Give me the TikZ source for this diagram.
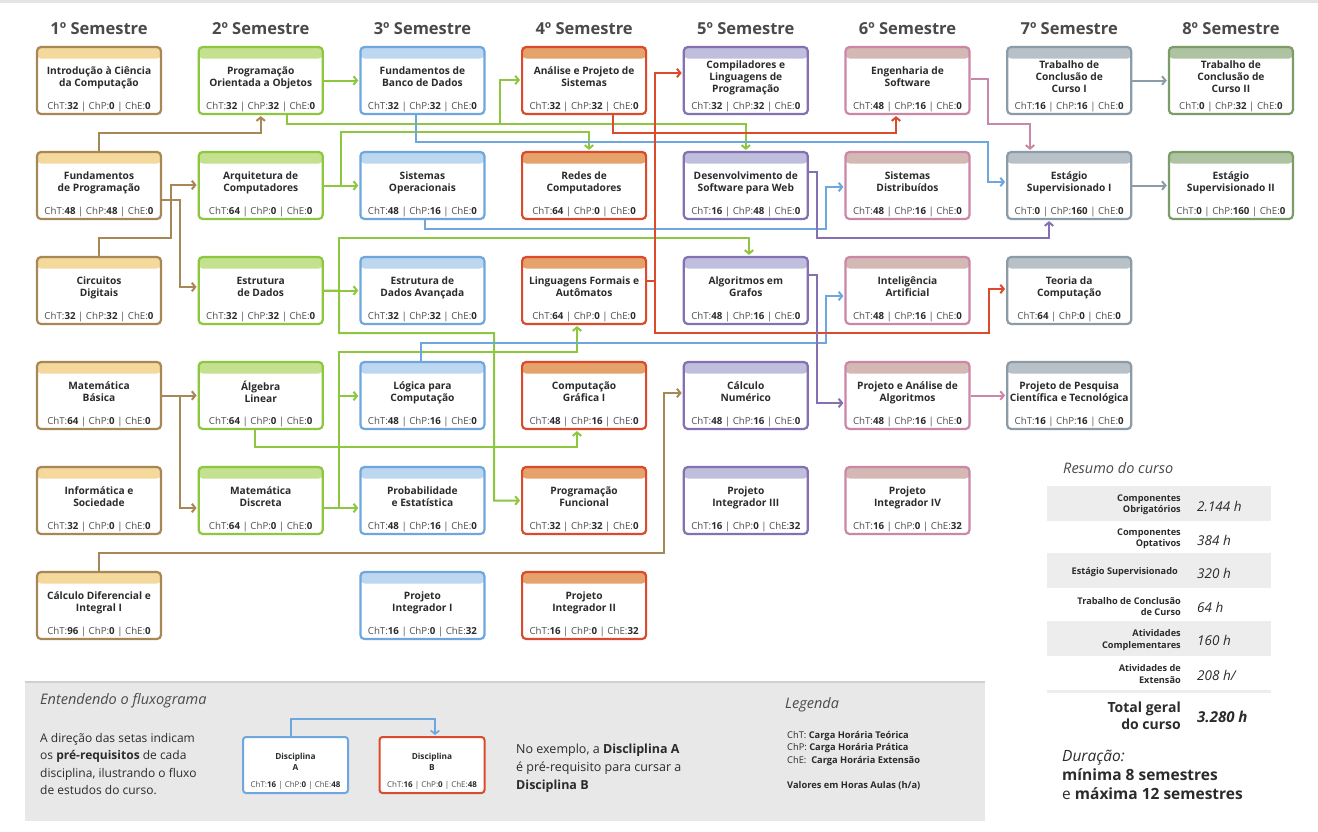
\documentclass[tikz,border=0pt]{standalone}
\usepackage{fontspec}
\setmainfont{Open Sans}
\usepackage{xcolor}
\usepackage{tikz}
\usetikzlibrary{arrows.meta, positioning}
\definecolor{s1line}{HTML}{A88756}
\definecolor{s1head}{HTML}{F4D89C}
\definecolor{s2line}{HTML}{8DC63F}
\definecolor{s2head}{HTML}{C4E18F}
\definecolor{s3line}{HTML}{6EA7DD}
\definecolor{s3head}{HTML}{BDD7F0}
\definecolor{s4line}{HTML}{DB4A2B}
\definecolor{s4head}{HTML}{E6A26B}
\definecolor{s5line}{HTML}{8371B1}
\definecolor{s5head}{HTML}{C0BEDD}
\definecolor{s6line}{HTML}{CB87A7}
\definecolor{s6head}{HTML}{D4B8B3}
\definecolor{s7line}{HTML}{8B9CA8}
\definecolor{s7head}{HTML}{B9C1C8}
\definecolor{s8line}{HTML}{7E9C68}
\definecolor{s8head}{HTML}{ADC3A1}
\definecolor{ink}{HTML}{2B2B2B}
\definecolor{inkgray}{HTML}{505050}
\definecolor{semink}{HTML}{4A4A4A}
\definecolor{rowbg}{HTML}{EDEDED}
\definecolor{panelbg}{HTML}{E8E8E8}
\definecolor{panelline}{HTML}{D0D0D0}
\definecolor{topline}{HTML}{E4E4E4}
\tikzset{
    discbox/.style={rectangle, rounded corners=4pt, line width=2.2pt, fill=white,
                    minimum width=124pt, minimum height=67pt, align=center, inner sep=2pt,
                    text depth=7pt, font=\fontsize{10.2}{12}\selectfont\bfseries, text=ink},
    headband/.style={path picture={\fill[#1] (path picture bounding box.north west)
                     rectangle ([yshift=-11.5pt]path picture bounding box.north east);}},
    s1box/.style={discbox, draw=s1line, headband=s1head},
    s2box/.style={discbox, draw=s2line, headband=s2head},
    s3box/.style={discbox, draw=s3line, headband=s3head},
    s4box/.style={discbox, draw=s4line, headband=s4head},
    s5box/.style={discbox, draw=s5line, headband=s5head},
    s6box/.style={discbox, draw=s6line, headband=s6head},
    s7box/.style={discbox, draw=s7line, headband=s7head},
    s8box/.style={discbox, draw=s8line, headband=s8head},
    hrstext/.style={anchor=base, yshift=5.5pt, inner sep=0pt, text=inkgray,
                    font=\fontsize{9.7}{11}\selectfont\mdseries},
    hrs/.style n args={3}{label={[hrstext]south:{ChT:\textcolor{ink}{\textbf{#1}} | ChP:\textcolor{ink}{\textbf{#2}} | ChE:\textcolor{ink}{\textbf{#3}}}}},
    legbox/.style={rectangle, rounded corners=3pt, line width=2pt, fill=white,
                   minimum width=105pt, minimum height=56pt, align=center, inner sep=1pt,
                   text depth=6pt, font=\fontsize{8.3}{11}\selectfont\bfseries, text=ink},
    leghrs/.style n args={3}{label={[hrstext, yshift=1pt, font=\fontsize{8}{9}\selectfont\mdseries]south:{ChT:\textcolor{ink}{\textbf{#1}} | ChP:\textcolor{ink}{\textbf{#2}} | ChE:\textcolor{ink}{\textbf{#3}}}}},
    semtitle/.style={font=\fontsize{16.5}{18}\selectfont\bfseries, text=semink, inner sep=0pt},
    arr/.style={-{Straight Barb[length=3.5pt,width=8.5pt]}, line width=2pt, shorten >=1pt},
    paneltitle/.style={font=\fontsize{14.5}{17}\selectfont\itshape, text=semink, inner sep=0pt},
    paneltext/.style={font=\fontsize{12}{17.5}\selectfont, text=ink, align=left, inner sep=0pt},
    legtext/.style={font=\fontsize{9.3}{12.5}\selectfont, text=ink, align=left, inner sep=0pt},
    sumlbl/.style={anchor=east, align=right, font=\fontsize{9.2}{11.3}\selectfont\bfseries, text=ink, inner sep=0pt},
    sumval/.style={anchor=west, font=\fontsize{13.5}{15}\selectfont\itshape, text=ink, inner sep=0pt},
}

\begin{document}
\begin{tikzpicture}[x=1pt, y=-1pt, node distance=35.8pt and 35.5pt]

  \fill[white] (0,0) rectangle (1318,831);
  \useasboundingbox (0,0) rectangle (1318,831);
  \fill[topline] (0,0) rectangle (1318,2.5);

  % first row
  \node[s1box, hrs={32}{0}{0}] (IC) at (99,80.5) {Introdução à Ciência\\da Computação};
  \node[s2box, hrs={32}{32}{0}, right=of IC] (POO) {Programação\\Orientada a Objetos};
  \node[s3box, hrs={32}{32}{0}, right=of POO] (FBD) {Fundamentos de\\Banco de Dados};
  \node[s4box, hrs={32}{32}{0}, right=of FBD] (APS) {Análise e Projeto de\\Sistemas};
  \node[s5box, hrs={32}{32}{0}, right=of APS] (CLP) {Compiladores e\\Linguagens de\\Programação};
  \node[s6box, hrs={48}{16}{0}, right=of CLP] (ES) {Engenharia de\\Software};
  \node[s7box, hrs={16}{16}{0}, right=of ES] (TCC1) {Trabalho de\\Conclusão de\\Curso I};
  \node[s8box, hrs={0}{32}{0}, right=of TCC1] (TCC2) {Trabalho de\\Conclusão de\\Curso II};

  \node[semtitle, above=11pt of IC] (sem1) {1º Semestre};
  \node[semtitle, above=11pt of POO] (sem2) {2º Semestre};
  \node[semtitle, above=11pt of FBD] (sem3) {3º Semestre};
  \node[semtitle, above=11pt of APS] (sem4) {4º Semestre};
  \node[semtitle, above=11pt of CLP] (sem5) {5º Semestre};
  \node[semtitle, above=11pt of ES] (sem6) {6º Semestre};
  \node[semtitle, above=11pt of TCC1] (sem7) {7º Semestre};
  \node[semtitle, above=11pt of TCC2] (sem8) {8º Semestre};

  % 1o semestre
  \node[s1box, hrs={48}{48}{0}, below=of IC] (FP) {Fundamentos\\de Programação};
  \node[s1box, hrs={32}{32}{0}, below=of FP] (CD) {Circuitos\\Digitais};
  \node[s1box, hrs={64}{0}{0}, below=of CD] (MB) {Matemática\\Básica};
  \node[s1box, hrs={32}{0}{0}, below=of MB] (IS) {Informática e\\Sociedade};
  \node[s1box, hrs={96}{0}{0}, below=of IS] (CDI) {Cálculo Diferencial e\\Integral I};

  % 2o semestre
  \node[s2box, hrs={64}{0}{0}, below=of POO] (AC) {Arquitetura de\\Computadores};
  \node[s2box, hrs={32}{32}{0}, below=of AC] (ED) {Estrutura\\de Dados};
  \node[s2box, hrs={64}{0}{0}, below=of ED] (AL) {Álgebra\\Linear};
  \node[s2box, hrs={64}{0}{0}, below=of AL] (MD) {Matemática\\Discreta};

  % 3o semestre
  \node[s3box, hrs={48}{16}{0}, below=of FBD] (SO) {Sistemas\\Operacionais};
  \node[s3box, hrs={32}{32}{0}, below=of SO] (EDA) {Estrutura de\\Dados Avançada};
  \node[s3box, hrs={48}{16}{0}, below=of EDA] (LC) {Lógica para\\Computação};
  \node[s3box, hrs={48}{16}{0}, below=of LC] (PE) {Probabilidade\\e Estatística};
  \node[s3box, hrs={16}{0}{32}, below=of PE] (PI1) {Projeto\\Integrador I};

  % 4o semestre
  \node[s4box, hrs={64}{0}{0}, below=of APS] (RC) {Redes de\\Computadores};
  \node[s4box, hrs={64}{0}{0}, below=of RC] (LFA) {Linguagens Formais e\\Autômatos};
  \node[s4box, hrs={48}{16}{0}, below=of LFA] (CG) {Computação\\Gráfica I};
  \node[s4box, hrs={32}{32}{0}, below=of CG] (PF) {Programação\\Funcional};
  \node[s4box, hrs={16}{0}{32}, below=of PF] (PI2) {Projeto\\Integrador II};

  % 5o semestre
  \node[s5box, hrs={16}{48}{0}, below=of CLP] (DSW) {Desenvolvimento de\\Software para Web};
  \node[s5box, hrs={48}{16}{0}, below=of DSW] (AG) {Algoritmos em\\Grafos};
  \node[s5box, hrs={48}{16}{0}, below=of AG] (CN) {Cálculo\\Numérico};
  \node[s5box, hrs={16}{0}{32}, below=of CN] (PI3) {Projeto\\Integrador III};

  % 6o semestre
  \node[s6box, hrs={48}{16}{0}, below=of ES] (SD) {Sistemas\\Distribuídos};
  \node[s6box, hrs={48}{16}{0}, below=of SD] (IA) {Inteligência\\Artificial};
  \node[s6box, hrs={48}{16}{0}, below=of IA] (PAA) {Projeto e Análise de\\Algoritmos};
  \node[s6box, hrs={16}{0}{32}, below=of PAA] (PI4) {Projeto\\Integrador IV};

  % 7o e 8o semestre
  \node[s7box, hrs={0}{160}{0}, below=of TCC1] (ESI) {Estágio\\Supervisionado I};
  \node[s7box, hrs={64}{0}{0}, below=of ESI] (TC) {Teoria da\\Computação};
  \node[s7box, hrs={16}{16}{0}, below=of TC] (PPCT) {Projeto de Pesquisa\\Científica e Tecnológica};
  \node[s8box, hrs={0}{160}{0}, below=of TCC2] (ESII) {Estágio\\Supervisionado II};

  % pre-requisitos
  \draw[arr, s1line] (FP.north) |- (POO.south |- 0,133) -- (POO.south);
  \draw[arr, s1line] (FP.east |- 0,200) -| (180,287) -- (ED.west |- 0,287);
  \draw[arr, s1line] (CD.north) |- (171,238) |- (AC.west |- 0,185);
  \draw[arr, s1line] (MB.east) -- (AL.west);
  \draw[arr, s1line] (MB.east) -| (180,508) -- (MD.west |- 0,508);
  \draw[arr, s1line] (CDI.north) |- (664,553) |- (CN.west |- 0,393);

  \draw[arr, s2line] (POO.east) -- (FBD.west);
  \draw[arr, s2line] (POO.south -| 287,0) |- (500,124) |- (APS.west |- 0,80);
  \draw[arr, s2line] (POO.south -| 287,0) |- (DSW.north |- 0,124) -- (DSW.north);
  \draw[arr, s2line] (AC.east) -- (SO.west);
  \draw[arr, s2line] (AC.east) -| (341,132) -| (RC.north -| 589,0);
  \draw[arr, s2line] (ED.east) -- (EDA.west);
  \draw[arr, s2line] (ED.east) -| (339,238) -| (AG.north -| 749,0);
  \draw[arr, s2line] (ED.east) -| (339,333) -| (494,500.5) -- (PF.west);
  \draw[arr, s2line] (AL.south -| 255,0) |- (577,447) -- (CG.south -| 577,0);
  \draw[arr, s2line] (MD.east |- 0,508) -- (PE.west |- 0,508);
  \draw[arr, s2line] (MD.east |- 0,508) -| (339,396) -- (LC.west |- 0,396);
  \draw[arr, s2line] (MD.east |- 0,508) -| (339,352) -| (LFA.south -| 577,0);

  \draw[arr, s3line] (FBD.south -| 416,0) |- (988,142) |- (ESI.west |- 0,182);
  \draw[arr, s3line] (SO.south -| 425,0) |- (826,229) |- (SD.west |- 0,187);
  \draw[arr, s3line] (LC.north -| 421,0) |- (826,343) |- (IA.west |- 0,296);

  \draw[arr, s4line] (APS.south -| 613,0) |- (896,133) -- (ES.south -| 896,0);
  \draw[arr, s4line] (LFA.east |- 0,281) -| (655,73) -- (CLP.west |- 0,73);
  \draw[arr, s4line] (LFA.east |- 0,281) -| (655,333) -| (989,289) -- (TC.west |- 0,289);

  \draw[arr, s5line] (DSW.east |- 0,172) -| (817,238) -| (ESI.south -| 1049,0);
  \draw[arr, s5line] (AG.east |- 0,275) -| (817,403) -- (PAA.west |- 0,403);

  \draw[arr, s6line] (ES.east |- 0,79) -| (988,124) -| (ESI.north -| 1030,0);
  \draw[arr, s6line] (PAA.east) -- (PPCT.west);

  \draw[arr, s7line] (TCC1.east) -- (TCC2.west);
  \draw[arr, s7line] (ESI.east) -- (ESII.west);

  % resumo do curso
  \node[paneltitle, anchor=base west] (resumo) at (1063,473) {Resumo do curso};
  \fill[rowbg] (1047,486) rectangle (1271,521);
  \fill[rowbg] (1047,553) rectangle (1271,588);
  \fill[rowbg] (1047,621) rectangle (1271,656);
  \fill[rowbg] (1047,690) rectangle (1271,693);
  \node[sumlbl] (obrig) at (1181,504.5) {Componentes\\Obrigatórios};
  \node[sumval] (obrigh) at (1197,506) {2.144 h};
  \node[sumlbl] (optat) at (1181,538.5) {Componentes\\Optativos};
  \node[sumval] (optath) at (1197,540) {384 h};
  \node[sumlbl] (estag) at (1178,572.5) {Estágio Supervisionado};
  \node[sumval] (estagh) at (1197,573) {320 h};
  \node[sumlbl] (tcc) at (1181,606.5) {Trabalho de Conclusão\\de Curso};
  \node[sumval] (tcch) at (1197,607) {64 h};
  \node[sumlbl] (compl) at (1181,640) {Atividades\\Complementares};
  \node[sumval] (complh) at (1197,640) {160 h};
  \node[sumlbl] (ext) at (1181,674) {Atividades de\\Extensão};
  \node[sumval] (exth) at (1197,675) {208 h/};
  \node[sumlbl, font=\fontsize{14}{17}\selectfont\bfseries] (total) at (1181,716) {Total geral\\do curso};
  \node[sumval, font=\fontsize{15}{17}\selectfont\bfseries\itshape] (totalh) at (1197,717) {3.280 h};
  \node[paneltext, anchor=north west, font=\fontsize{15.5}{19}\selectfont, text=ink] (duracao) at (1062,750)
       {\textit{Duração:}\\\textbf{mínima 8 semestres}\\e \textbf{máxima 12 semestres}};

  % entendendo o fluxograma
  \fill[panelbg] (25,681) rectangle (985,821);
  \draw[panelline, line width=2pt] (25,682) -- (985,682);
  \node[paneltitle, anchor=base west] (entend) at (40,704) {Entendendo o fluxograma};
  \node[paneltext, anchor=north west] (explica) at (40,733)
       {A direção das setas indicam\\os \textbf{pré-requisitos} de cada\\disciplina, ilustrando o fluxo\\de estudos do curso.};
  \node[legbox, draw=s3line, leghrs={16}{0}{48}] (discA) at (295.5,765) {Disciplina\\A};
  \node[legbox, draw=s4line, leghrs={16}{0}{48}] (discB) at (432,765) {Disciplina\\B};
  \draw[arr, s3line, line width=1.6pt] (discA.north -| 291,0) |- (435,719) -- (discB.north -| 435,0);
  \node[paneltext, anchor=north west, font=\fontsize{12.5}{18}\selectfont] (exemplo) at (516,744)
       {No exemplo, a \textbf{Discliplina A}\\é pré-requisito para cursar a\\\textbf{Disciplina B}};
  \node[paneltitle, anchor=base west] (legenda) at (785,708) {Legenda};
  \node[legtext, anchor=north west] (siglas) at (787,731)
       {ChT: \textbf{Carga Horária Teórica}\\ChP: \textbf{Carga Horária Prática}\\ChE:\ \ \textbf{Carga Horária Extensão}};
  \node[legtext, anchor=west] (valores) at (787,786) {\textbf{Valores em Horas Aulas (h/a)}};

\end{tikzpicture}
\end{document}
